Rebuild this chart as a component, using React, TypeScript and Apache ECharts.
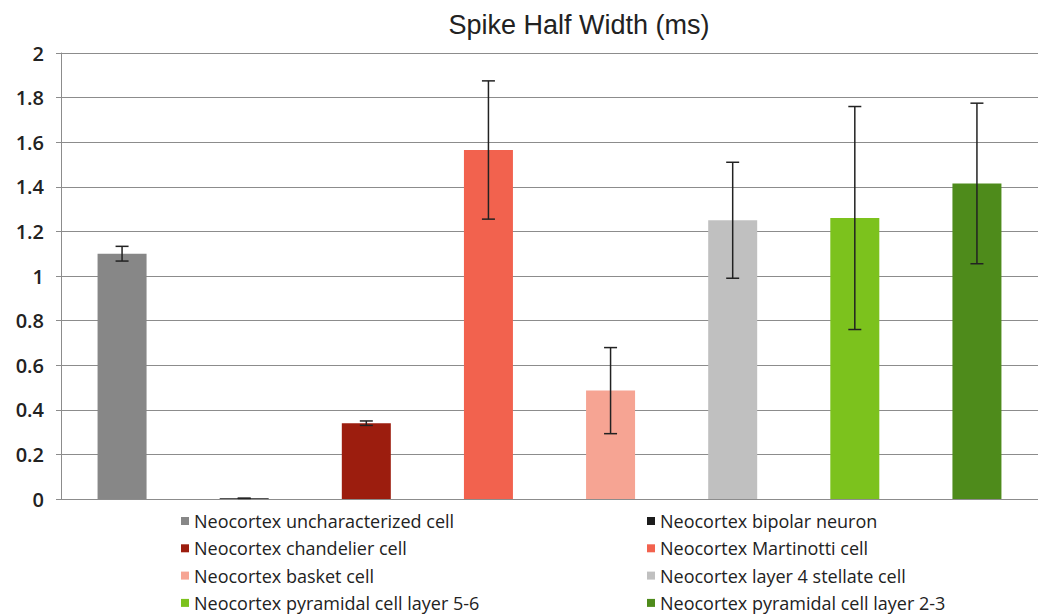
import React, { useEffect, useRef } from "react";
import * as echarts from "echarts";

const categories = [
  "Neocortex uncharacterized cell",
  "Neocortex bipolar neuron",
  "Neocortex chandelier cell",
  "Neocortex Martinotti cell",
  "Neocortex basket cell",
  "Neocortex layer 4 stellate cell",
  "Neocortex pyramidal cell layer 5-6",
  "Neocortex pyramidal cell layer 2-3",
];
const values = [1.1, 0.003, 0.34, 1.565, 0.486, 1.25, 1.26, 1.415];
const errors = [0.033, 0.0, 0.01, 0.31, 0.193, 0.26, 0.5, 0.36];
const colors = ["#878787", "#1c1c1c", "#9c1d0e", "#f2624e", "#f6a493", "#c0c0c0", "#7cc21d", "#4e8b1b"];
const yTicks = [0, 0.2, 0.4, 0.6, 0.8, 1, 1.2, 1.4, 1.6, 1.8, 2];

export default function App() {
  const ref = useRef<HTMLDivElement>(null);
  useEffect(() => {
    document.body.style.margin = "0";
    const chart = echarts.init(ref.current!, null, { renderer: "svg" });
    const barSeries = categories.map((name, i) => ({
      name,
      type: "bar",
      barWidth: 49,
      barGap: "-100%",
      itemStyle: { color: colors[i] },
      data: categories.map((_, j) => (j === i ? values[i] : "-")),
      z: 2,
    }));
    const errData = values.map((v, i) => [i, v - errors[i], v + errors[i]]);
    const legendText = { fontFamily: "Open Sans", fontSize: 18, color: "#222", lineHeight: 18 };
    const legendCommon = {
      orient: "vertical",
      top: 512,
      padding: 0,
      itemWidth: 8,
      itemHeight: 8,
      itemGap: 9.3,
      icon: "rect",
      textStyle: legendText,
    };
    const option = {
      animation: false,
      title: {
        text: "Spike Half Width (ms)",
        left: 574,
        top: 6,
        textAlign: "center",
        textStyle: { fontFamily: "Liberation Sans", fontSize: 27, fontWeight: "normal", color: "#222" },
      },
      legend: [
        { ...legendCommon, left: 181, data: [categories[0], categories[2], categories[4], categories[6]] },
        { ...legendCommon, left: 647, data: [categories[1], categories[3], categories[5], categories[7]] },
      ],
      grid: { left: 61, top: 53, width: 982, height: 446, containLabel: false },
      xAxis: {
        type: "category",
        data: categories,
        axisLine: { lineStyle: { color: "#8c8c8c", width: 1 } },
        axisTick: { show: false },
        axisLabel: { show: false },
        splitLine: { show: false },
      },
      yAxis: {
        type: "value",
        min: yTicks[0],
        max: yTicks[yTicks.length - 1],
        interval: 0.2,
        axisLine: { show: true, lineStyle: { color: "#8c8c8c", width: 1 } },
        axisTick: { show: true, length: 5, lineStyle: { color: "#8c8c8c" } },
        axisLabel: {
          margin: 17,
          fontFamily: "Open Sans",
          fontSize: 20,
          fontWeight: 600,
          color: "#222",
          formatter: (v: number) => String(Math.round(v * 10) / 10),
        },
        splitLine: { show: true, lineStyle: { color: "#8c8c8c", width: 1 } },
      },
      series: [
        ...barSeries,
        {
          type: "custom",
          name: "err",
          z: 5,
          encode: { x: 0, y: [1, 2] },
          data: errData,
          renderItem: (params: any, api: any) => {
            const idx = api.value(0);
            const lo = api.coord([idx, api.value(1)]);
            const hi = api.coord([idx, api.value(2)]);
            const hw = 6.5;
            const style = { stroke: "#222", lineWidth: 1.5 };
            return {
              type: "group",
              children: [
                { type: "line", shape: { x1: lo[0], y1: lo[1], x2: hi[0], y2: hi[1] }, style },
                { type: "line", shape: { x1: lo[0] - hw, y1: lo[1], x2: lo[0] + hw, y2: lo[1] }, style },
                { type: "line", shape: { x1: hi[0] - hw, y1: hi[1], x2: hi[0] + hw, y2: hi[1] }, style },
              ],
            };
          },
        },
      ],
    };
    chart.setOption(option as any);
    return () => chart.dispose();
  }, []);
  return <div ref={ref} style={{ width: 1038, height: 615 }} />;
}
